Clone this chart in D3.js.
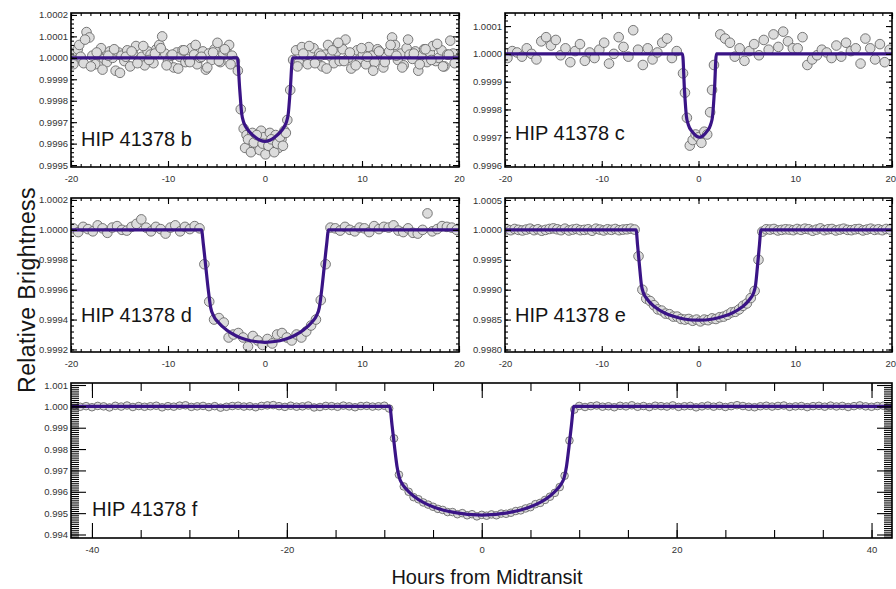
<!DOCTYPE html>
<html><head><meta charset="utf-8">
<script src="https://cdn.jsdelivr.net/npm/d3@7"></script>
<style>
body{margin:0;background:#fff;}
svg{display:block;font-family:"Liberation Sans",Arial,sans-serif;}
</style></head><body>
<svg id="chart" width="896" height="589"></svg>
<script>
// ---------------- DATA (flux given as ppm offset from 1.0) ----------------
const panelLabels = ["HIP 41378 b","HIP 41378 c","HIP 41378 d","HIP 41378 e","HIP 41378 f"];
const xTitle = "Hours from Midtransit";
const yTitle = "Relative Brightness";

const xDomainSmall = [-20, 20];
const xTicksSmall = [-20, -10, 0, 10, 20];
const xDomainF = [-42.15, 42.1];
const xTicksF = [-40, -20, 0, 20, 40];

const yDomainB = [0.999491, 1.000209];
const yTicksB = [0.9995, 0.9996, 0.9997, 0.9998, 0.9999, 1.0000, 1.0001, 1.0002];
const yDomainC = [0.999593, 1.000147];
const yTicksC = [0.9996, 0.9997, 0.9998, 0.9999, 1.0000, 1.0001];
const yDomainD = [0.999183, 1.000213];
const yTicksD = [0.9992, 0.9994, 0.9996, 0.9998, 1.0000, 1.0002];
const yDomainE = [0.997958, 1.000533];
const yTicksE = [0.9980, 0.9985, 0.9990, 0.9995, 1.0000, 1.0005];
const yDomainF = [0.993836, 1.001094];
const yTicksF = [0.994, 0.995, 0.996, 0.997, 0.998, 0.999, 1.000, 1.001];

// HIP 41378 b
const timeB = [-19.9,-19.6,-19.3,-19.0,-18.7,-18.4,-18.1,-17.8,-17.5,-17.2,
-16.9,-16.6,-16.3,-16.0,-15.7,-15.4,-15.1,-14.8,-14.5,-14.2,
-13.9,-13.6,-13.3,-13.0,-12.7,-12.4,-12.1,-11.8,-11.5,-11.2,
-10.9,-10.6,-10.3,-10.0,-9.7,-9.4,-9.1,-8.8,-8.5,-8.2,
-7.9,-7.6,-7.3,-7.0,-6.7,-6.4,-6.1,-5.8,-5.5,-5.2,
-4.9,-4.6,-4.3,-4.0,-3.7,-3.4,-3.1,
-2.8,-2.5,-2.2,-1.9,-1.6,-1.3,-1.0,-0.7,-0.4,-0.1,
0.2,0.5,0.8,1.1,1.4,1.7,2.0,2.3,2.6,2.9,
3.2,3.5,3.8,4.1,4.4,4.7,5.0,5.3,5.6,5.9,
6.2,6.5,6.8,7.1,7.4,7.7,8.0,8.3,8.6,8.9,
9.2,9.5,9.8,10.1,10.4,10.7,11.0,11.3,11.6,11.9,
12.2,12.5,12.8,13.1,13.4,13.7,14.0,14.3,14.6,14.9,
15.2,15.5,15.8,16.1,16.4,16.7,17.0,17.3,17.6,17.9,
18.2,18.5,18.8,19.1,19.4,19.7,
-2.05,-1.75,-1.45,-1.15,-0.85,-0.55,-0.25,0.05,0.35,0.65,0.95,1.25,1.55,1.85,2.15,
-19.75,-19.15,-18.55,-17.95,-17.35,-16.75,-16.15,-15.55,-14.95,-14.35,
-13.75,-13.15,-12.55,-11.95,-11.35,-10.75,-10.15,-9.55,-8.95,-8.35,
-7.75,-7.15,-6.55,-5.95,-5.35,-4.75,-4.15,-3.55,
3.35,3.95,4.55,5.15,5.75,6.35,6.95,7.55,8.15,8.75,
9.35,9.95,10.55,11.15,11.75,12.35,12.95,13.55,14.15,14.75,
15.35,15.95,16.55,17.15,17.75,18.35,18.95,19.55];
const ppmB = [20,-10,40,5,-25,120,95,10,-30,15,
45,-5,-20,30,0,-60,25,10,-15,35,
-40,20,55,-10,5,-35,30,15,-25,40,
60,100,20,-15,10,-45,25,5,35,-20,
-5,45,15,-30,0,30,-55,20,-10,40,
70,-20,15,35,60,10,-15,
-60,-240,-330,-360,-410,-350,-380,-420,-340,-370,
-400,-350,-390,-360,-420,-380,-340,-290,-150,-10,
35,-20,50,10,-30,25,45,-10,20,-40,
15,60,5,-25,30,-15,40,85,0,-50,
20,35,-5,15,-30,50,10,-20,40,25,
-45,5,30,95,60,-10,20,-35,45,15,
-5,30,-60,10,40,-20,25,55,-15,0,
35,-40,15,80,20,-10,
-420,-380,-440,-395,-360,-430,-400,-450,-410,-380,-440,-400,-370,-410,-350,
-30,60,85,-40,25,-55,10,40,-70,5,
30,-25,55,-10,20,45,-35,15,-50,35,
-20,60,5,-45,25,-15,40,-30,
-40,20,55,-25,10,-50,35,70,-15,25,
-35,45,5,-60,30,-20,60,10,-45,85,
20,-30,40,-10,65,-40,15,-25];
const modelTimeB = [-20,-2.85,-2.6,-2.4,-2.2,-2.0,-1.5,-1.0,-0.5,0,0.5,1.0,1.5,2.0,2.2,2.4,2.6,2.85,20];
const modelPpmB  = [0,0,-150,-260,-300,-320,-350,-370,-384,-390,-384,-370,-350,-320,-300,-260,-150,0,0];

// HIP 41378 c
const timeC = [-19.75,-19.25,-18.75,-18.25,-17.75,-17.25,-16.75,-16.25,-15.75,-15.25,
-14.75,-14.25,-13.75,-13.25,-12.75,-12.25,-11.75,-11.25,-10.75,-10.25,
-9.75,-9.25,-8.75,-8.25,-7.75,-7.25,-6.75,-6.25,-5.75,-5.25,
-4.75,-4.25,-3.75,-3.25,-2.75,-2.25,
-1.6,-1.4,-1.2,-0.9,-0.6,-0.3,0,0.3,0.6,0.9,1.2,1.4,1.6,
2.25,2.75,3.25,3.75,4.25,4.75,5.25,5.75,6.25,6.75,
7.25,7.75,8.25,8.75,9.25,9.75,10.25,10.75,11.25,11.75,
12.25,12.75,13.25,13.75,14.25,14.75,15.25,15.75,16.25,16.75,
17.25,17.75,18.25,18.75,19.25,19.75];
const ppmC = [-15,10,5,-10,20,0,-20,45,60,30,
50,-5,20,-30,10,35,-25,5,-15,15,
40,-35,0,60,25,-10,85,15,-40,20,
-20,5,40,55,-15,10,
-70,-140,-230,-330,-310,-290,-300,-320,-280,-290,-210,-130,-40,
70,55,40,-10,20,-25,10,35,-5,50,
15,70,25,80,45,20,20,60,-40,-20,
-5,15,5,-15,30,-10,40,10,20,-35,
55,20,-20,35,-30,15];
const modelTimeC = [-20,-1.65,-1.45,-1.25,-1.05,-0.65,-0.25,0.1,0.45,0.85,1.25,1.45,1.65,1.85,20];
const modelPpmC  = [0,0,-130,-225,-255,-280,-295,-300,-295,-280,-255,-225,-130,0,0];

// HIP 41378 d
const timeD = [-19.75,-19.25,-18.75,-18.25,-17.75,-17.25,-16.75,-16.25,-15.75,-15.25,
-14.75,-14.25,-13.75,-13.25,-12.75,-12.25,-11.75,-11.25,-10.75,-10.25,
-9.75,-9.25,-8.75,-8.25,-7.75,-7.25,-6.75,
-6.25,-5.75,-5.25,-4.75,-4.25,-3.75,-3.25,-2.75,-2.25,-1.75,
-1.25,-0.75,-0.25,0.25,0.75,1.25,1.75,2.25,2.75,3.25,
3.75,4.25,4.75,5.25,5.75,6.25,
6.75,7.25,7.75,8.25,8.75,9.25,9.75,10.25,10.75,11.25,
11.75,12.25,12.75,13.25,13.75,14.25,14.75,15.25,15.75,16.25,
16.75,17.25,17.75,18.25,18.75,19.25,19.75];
const ppmD = [10,-15,20,5,-10,30,10,-20,15,25,
0,-5,20,40,70,15,-10,20,5,-25,
15,30,-10,20,5,25,10,
-230,-480,-600,-590,-620,-720,-700,-690,-720,-780,
-710,-740,-770,-730,-760,-700,-690,-720,-740,-700,
-720,-680,-640,-600,-470,-230,
15,10,-5,20,0,-10,15,10,-15,25,
5,20,15,30,-5,-15,10,-20,-25,0,
110,-10,5,25,20,15,0];
const modelTimeD = [-20,-6.55,-6.35,-6.1,-5.85,-5.6,-5.3,-4.8,-4,-3,-2,-1,0,1,2,3,4,4.8,5.3,5.6,5.85,6.1,6.35,6.55,20];
const modelPpmD  = [0,0,-100,-250,-400,-520,-575,-620,-668,-708,-733,-747,-752,-747,-733,-708,-668,-620,-575,-520,-400,-250,-100,0,0];

// HIP 41378 e
const timeE = [-19.8,-19.4,-19.0,-18.6,-18.2,-17.8,-17.4,-17.0,-16.6,-16.2,
-15.8,-15.4,-15.0,-14.6,-14.2,-13.8,-13.4,-13.0,-12.6,-12.2,
-11.8,-11.4,-11.0,-10.6,-10.2,-9.8,-9.4,-9.0,-8.6,-8.2,
-7.8,-7.4,-7.0,-6.6,
-6.2,-5.8,-5.4,-5.0,-4.6,-4.2,-3.8,-3.4,-3.0,-2.6,
-2.2,-1.8,-1.4,-1.0,-0.6,-0.2,0.2,0.6,1.0,1.4,
1.8,2.2,2.6,3.0,3.4,3.8,4.2,4.6,5.0,5.4,
5.8,6.2,
6.6,7.0,7.4,7.8,8.2,8.6,9.0,9.4,9.8,10.2,
10.6,11.0,11.4,11.8,12.2,12.6,13.0,13.4,13.8,14.2,
14.6,15.0,15.4,15.8,16.2,16.6,17.0,17.4,17.8,18.2,
18.6,19.0,19.4,19.8];
const ppmE = [10,-5,15,0,-10,5,20,-5,10,-15,
0,15,25,10,-5,20,-10,5,15,-5,
0,10,-15,20,5,-10,10,0,15,-5,
5,10,20,5,
-440,-1000,-1150,-1190,-1260,-1330,-1350,-1400,-1410,-1450,
-1450,-1490,-1500,-1490,-1520,-1500,-1530,-1500,-1510,-1480,
-1490,-1460,-1450,-1420,-1380,-1370,-1330,-1270,-1230,-1140,
-1020,-500,
-30,10,5,15,-10,0,10,5,-5,15,
0,20,10,-15,5,25,-5,10,15,-10,
5,20,0,-5,10,15,-10,5,20,0,
10,-5,15,5];
const modelTimeE = [-20,-6.45,-6.3,-6.1,-5.9,-5.7,-5.3,-4.5,-3.5,-2.5,-1.5,0,1.5,2.5,3.5,4.5,5.3,5.7,5.9,6.1,6.3,6.45,20];
const modelPpmE  = [0,0,-250,-600,-920,-1050,-1160,-1290,-1390,-1450,-1490,-1510,-1490,-1450,-1390,-1290,-1160,-1050,-920,-600,-250,0,0];

// HIP 41378 f
const timeF = [-41.8,-41.2,-40.6,-40.0,-39.4,-38.8,-38.2,-37.6,-37.0,-36.4,
-35.8,-35.2,-34.6,-34.0,-33.4,-32.8,-32.2,-31.6,-31.0,-30.4,
-29.8,-29.2,-28.6,-28.0,-27.4,-26.8,-26.2,-25.6,-25.0,-24.4,
-23.8,-23.2,-22.6,-22.0,-21.4,-20.8,-20.2,-19.6,-19.0,-18.4,
-17.8,-17.2,-16.6,-16.0,-15.4,-14.8,-14.2,-13.6,-13.0,-12.4,
-11.8,-11.2,-10.6,-10.0,
-9.5,-9.0,-8.5,-8.0,-7.5,-7.0,-6.5,-6.0,-5.5,-5.0,
-4.5,-4.0,-3.5,-3.0,-2.5,-2.0,-1.5,-1.0,-0.5,0,
0.5,1.0,1.5,2.0,2.5,3.0,3.5,4.0,4.5,5.0,
5.5,6.0,6.5,7.0,7.5,8.0,8.5,9.0,9.5,
10.0,10.6,11.2,11.8,12.4,13.0,13.6,14.2,14.8,15.4,
16.0,16.6,17.2,17.8,18.4,19.0,19.6,20.2,20.8,21.4,
22.0,22.6,23.2,23.8,24.4,25.0,25.6,26.2,26.8,27.4,
28.0,28.6,29.2,29.8,30.4,31.0,31.6,32.2,32.8,33.4,
34.0,34.6,35.2,35.8,36.4,37.0,37.6,38.2,38.8,39.4,
40.0,40.6,41.2,41.8];
const ppmF = [30,-20,10,-40,20,0,-50,25,-10,40,
-30,15,-20,5,30,-45,10,-15,35,50,
-25,0,20,-35,10,-60,-20,15,30,-10,
5,-40,20,45,60,10,-25,30,-15,0,
40,-50,-30,20,10,-20,35,0,-40,15,
25,-10,5,30,
-100,-1500,-3200,-3750,-4000,-4250,-4350,-4500,-4600,-4700,
-4800,-4850,-4950,-4950,-5050,-5000,-5100,-5050,-5150,-5080,
-5120,-5060,-5100,-5020,-5030,-4980,-4900,-4870,-4780,-4720,
-4580,-4520,-4380,-4230,-4050,-3780,-3250,-1600,-150,
20,-30,10,40,-15,5,-40,25,0,50,
-20,15,-35,30,10,-10,45,-25,5,20,
-45,0,35,-15,25,-30,10,55,15,-20,
-40,5,30,-10,20,40,-25,0,15,-35,
10,25,-15,35,-5,20,-30,10,45,0,
-20,15,30,-10];
const modelTimeF = [-42.2,-9.45,-9.2,-8.95,-8.7,-8.45,-8.2,-7.8,-7.0,-6.0,-5.0,-4.0,-3.0,-2.0,-1.0,0,1.0,2.0,3.0,4.0,5.0,6.0,7.0,7.8,8.2,8.45,8.7,8.95,9.2,9.45,42.2];
const modelPpmF  = [0,0,-900,-1900,-2800,-3350,-3600,-3850,-4200,-4500,-4700,-4850,-4950,-5020,-5070,-5090,-5070,-5020,-4950,-4850,-4700,-4500,-4200,-3850,-3600,-3350,-2800,-1900,-900,0,0];

// ---------------- LAYOUT / STYLE ----------------
const layout = {
  b: {x0:71,  x1:459, y0:13,  y1:167, r:4.8, major:6,  minor:3, xMinor:1, yMinor:0.00002, fmt:".4f", lx:81,  ly:146},
  c: {x0:505, x1:892, y0:13,  y1:167, r:4.8, major:6,  minor:3, xMinor:1, yMinor:0.00002, fmt:".4f", lx:515, ly:140},
  d: {x0:71,  x1:459, y0:198, y1:352, r:4.8, major:6,  minor:3, xMinor:1, yMinor:0.00004, fmt:".4f", lx:81,  ly:322},
  e: {x0:505, x1:892, y0:198, y1:352, r:4.8, major:6,  minor:3, xMinor:1, yMinor:0.0001,  fmt:".4f", lx:515, ly:322},
  f: {x0:71,  x1:892, y0:383, y1:538, r:3.8, major:15, minor:8, xMinor:5, yMinor:0.0001,  fmt:".3f", lx:92,  ly:516}
};
const lineColor = "#3a1486";
const pageWidth = 896;

const panels = [
  {key:"b", label:panelLabels[0], time:timeB, ppm:ppmB, mt:modelTimeB, mp:modelPpmB, xDom:xDomainSmall, xTicks:xTicksSmall, yDom:yDomainB, yTicks:yTicksB},
  {key:"c", label:panelLabels[1], time:timeC, ppm:ppmC, mt:modelTimeC, mp:modelPpmC, xDom:xDomainSmall, xTicks:xTicksSmall, yDom:yDomainC, yTicks:yTicksC},
  {key:"d", label:panelLabels[2], time:timeD, ppm:ppmD, mt:modelTimeD, mp:modelPpmD, xDom:xDomainSmall, xTicks:xTicksSmall, yDom:yDomainD, yTicks:yTicksD},
  {key:"e", label:panelLabels[3], time:timeE, ppm:ppmE, mt:modelTimeE, mp:modelPpmE, xDom:xDomainSmall, xTicks:xTicksSmall, yDom:yDomainE, yTicks:yTicksE},
  {key:"f", label:panelLabels[4], time:timeF, ppm:ppmF, mt:modelTimeF, mp:modelPpmF, xDom:xDomainF, xTicks:xTicksF, yDom:yDomainF, yTicks:yTicksF}
];

const svg = d3.select("#chart");
svg.append("rect").attr("width",896).attr("height",589).attr("fill","#fff");

function minorVals(dom, step){
  const lo = Math.ceil(dom[0]/step - 1e-6), hi = Math.floor(dom[1]/step + 1e-6);
  return d3.range(lo, hi+1).map(i => +(i*step).toFixed(6));
}

function drawPanel(p){
  const L = layout[p.key];
  const x = d3.scaleLinear().domain(p.xDom).range([L.x0, L.x1]);
  const y = d3.scaleLinear().domain(p.yDom).range([L.y1, L.y0]);
  const g = svg.append("g");
  const clipId = "clip-" + p.key;
  svg.append("clipPath").attr("id", clipId).append("rect")
    .attr("x", L.x0).attr("y", L.y0).attr("width", L.x1-L.x0).attr("height", L.y1-L.y0);

  const pts = p.time.map((t,i) => ({t, f: 1 + p.ppm[i]/1e6}));
  g.append("g").attr("clip-path", `url(#${clipId})`)
    .selectAll("circle").data(pts).join("circle")
    .attr("cx", d => x(d.t)).attr("cy", d => y(d.f)).attr("r", L.r)
    .attr("fill", "#dcdcdc").attr("stroke", "#6a6a6a").attr("stroke-width", 0.9);

  const model = p.mt.map((t,i) => ({t, f: 1 + p.mp[i]/1e6}));
  g.append("path").attr("clip-path", `url(#${clipId})`).datum(model)
    .attr("d", d3.line().x(d => x(d.t)).y(d => y(d.f)).curve(d3.curveMonotoneX))
    .attr("fill", "none").attr("stroke", lineColor).attr("stroke-width", 3.2);

  const style = sel => {
    sel.select(".domain").remove();
    sel.selectAll(".tick line").attr("stroke", "#000").attr("stroke-width", 1.1);
    sel.selectAll(".tick text").attr("fill", "#333").attr("font-size", "9.5px")
       .attr("font-family", "'Liberation Sans', Arial, sans-serif");
    sel.attr("font-family", null).attr("font-size", null);
  };
  const xMinor = minorVals(p.xDom, L.xMinor);
  const yMinor = minorVals(p.yDom, L.yMinor);
  const bot = `translate(0,${L.y1})`, top = `translate(0,${L.y0})`;
  const left = `translate(${L.x0},0)`, right = `translate(${L.x1},0)`;

  g.append("g").attr("transform", bot).call(d3.axisBottom(x).tickValues(xMinor).tickSize(-L.minor).tickFormat("")).call(style);
  g.append("g").attr("transform", top).call(d3.axisTop(x).tickValues(xMinor).tickSize(-L.minor).tickFormat("")).call(style);
  g.append("g").attr("transform", left).call(d3.axisLeft(y).tickValues(yMinor).tickSize(-L.minor).tickFormat("")).call(style);
  g.append("g").attr("transform", right).call(d3.axisRight(y).tickValues(yMinor).tickSize(-L.minor).tickFormat("")).call(style);

  const xa = g.append("g").attr("transform", bot)
    .call(d3.axisBottom(x).tickValues(p.xTicks).tickSize(-L.major).tickPadding(8).tickFormat(d => String(d))).call(style);
  // keep the right-most label inside the page
  xa.selectAll(".tick").each(function(d){
    const px = x(d);
    if (px + 6 > pageWidth) d3.select(this).select("text").attr("text-anchor", "end").attr("x", pageWidth - 0.5 - px);
  });
  g.append("g").attr("transform", top).call(d3.axisTop(x).tickValues(p.xTicks).tickSize(-L.major).tickFormat("")).call(style);
  g.append("g").attr("transform", left)
    .call(d3.axisLeft(y).tickValues(p.yTicks).tickSize(-L.major).tickPadding(3).tickFormat(d3.format(L.fmt))).call(style);
  g.append("g").attr("transform", right).call(d3.axisRight(y).tickValues(p.yTicks).tickSize(-L.major).tickFormat("")).call(style);

  g.append("rect").attr("x", L.x0).attr("y", L.y0).attr("width", L.x1-L.x0).attr("height", L.y1-L.y0)
    .attr("fill", "none").attr("stroke", "#000").attr("stroke-width", 1.6);

  g.append("text").attr("x", L.lx).attr("y", L.ly).attr("font-size", "20px").attr("fill", "#151515")
    .text(p.label);
}

panels.forEach(drawPanel);

svg.append("text").attr("transform", "translate(35,290) rotate(-90)").attr("text-anchor", "middle")
  .attr("font-size", "23px").attr("letter-spacing", "0.4px").attr("fill", "#151515").text(yTitle);
svg.append("text").attr("x", 487).attr("y", 584).attr("text-anchor", "middle")
  .attr("font-size", "20px").attr("fill", "#151515").text(xTitle);
</script>
</body></html>
